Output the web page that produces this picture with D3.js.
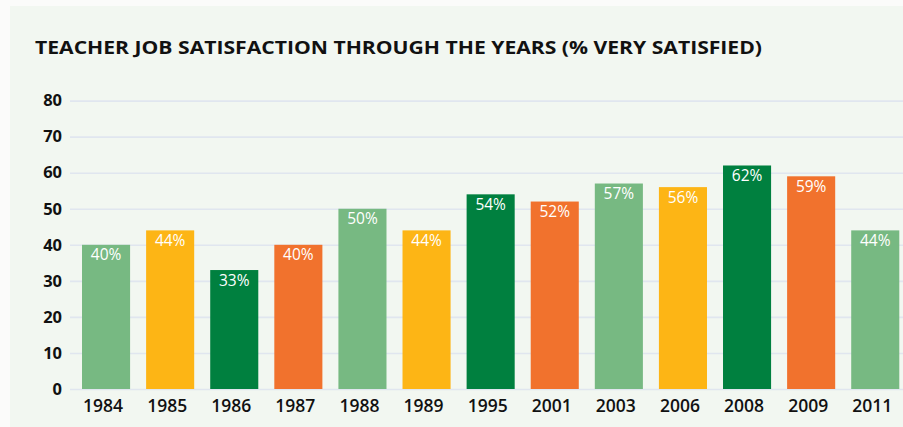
<!DOCTYPE html>
<html>

<head>
    <meta charset="UTF-8" />
    <title>teacher satisfaction</title>
    <style>
        body {
            margin: 0;
            padding: 0;
            background-color: #fbfbfa;
            font-family: 'Open Sans', 'Noto Sans', sans-serif;
        }
    </style>
</head>

<body>
    <div id="chart"></div>

    <script src="https://cdnjs.cloudflare.com/ajax/libs/d3/7.8.5/d3.min.js"></script>
    <script>
        const years = ['1984', '1985', '1986', '1987', '1988', '1989', '1995', '2001', '2003', '2006', '2008', '2009', '2011']
        const satisfied = [40, 44, 33, 40, 50, 44, 54, 52, 57, 56, 62, 59, 44]
        const yTicks = [0, 10, 20, 30, 40, 50, 60, 70, 80]
        const palette = ['#77b982', '#fdb515', '#00803f', '#f1722d']

        const width = 903
        const height = 427

        const svg = d3.select('#chart').append('svg')
            .attr('width', width)
            .attr('height', height)

        // panel behind the chart
        svg.append('rect')
            .attr('x', 10).attr('y', 6)
            .attr('width', width - 10).attr('height', height - 6)
            .attr('fill', '#f2f7f1')

        svg.append('text')
            .attr('x', 35).attr('y', 54)
            .attr('textLength', 727)
            .attr('lengthAdjust', 'spacingAndGlyphs')
            .style('font-family', 'Open Sans')
            .style('font-weight', 700)
            .style('font-size', '18px')
            .attr('fill', '#111')
            .text('TEACHER JOB SATISFACTION THROUGH THE YEARS (% VERY SATISFIED)')

        const y = d3.scaleLinear().domain([0, 80]).range([389, 100.6])
        const x = d3.scaleBand().domain(years).range([74, 907.3])
            .paddingInner(0.25).paddingOuter(0.125)

        // gridlines + tick labels
        const yAxis = svg.append('g')
            .attr('transform', 'translate(70,0)')
            .call(d3.axisLeft(y).tickValues(yTicks).tickSize(-(width - 70)).tickPadding(8))
        yAxis.select('.domain').remove()
        yAxis.selectAll('line').attr('stroke', '#e0e6ef').attr('stroke-width', 1.6)
        yAxis.selectAll('text')
            .attr('fill', '#111')
            .style('font-family', 'Open Sans')
            .style('font-weight', 700)
            .style('font-size', '16.5px')

        svg.selectAll('rect.bar')
            .data(years)
            .join('rect')
            .attr('class', 'bar')
            .attr('x', d => x(d))
            .attr('y', (d, i) => y(satisfied[i]))
            .attr('width', x.bandwidth())
            .attr('height', (d, i) => y(0) - y(satisfied[i]))
            .attr('fill', (d, i) => palette[i % 4])

        svg.selectAll('text.val')
            .data(years)
            .join('text')
            .attr('class', 'val')
            .attr('x', d => x(d) + x.bandwidth() / 2)
            .attr('y', (d, i) => y(satisfied[i]) + 15.5)
            .attr('text-anchor', 'middle')
            .attr('fill', 'white')
            .style('font-size', '15.5px')
            .text((d, i) => satisfied[i] + '%')

        const xAxis = svg.append('g')
            .attr('transform', 'translate(-3,' + y(0) + ')')
            .call(d3.axisBottom(x).tickSize(0).tickPadding(11))
        xAxis.select('.domain').remove()
        xAxis.selectAll('text')
            .attr('fill', '#111')
            .style('font-family', 'Open Sans')
            .style('font-weight', 600)
            .style('font-size', '17.5px')
    </script>
</body>

</html>
